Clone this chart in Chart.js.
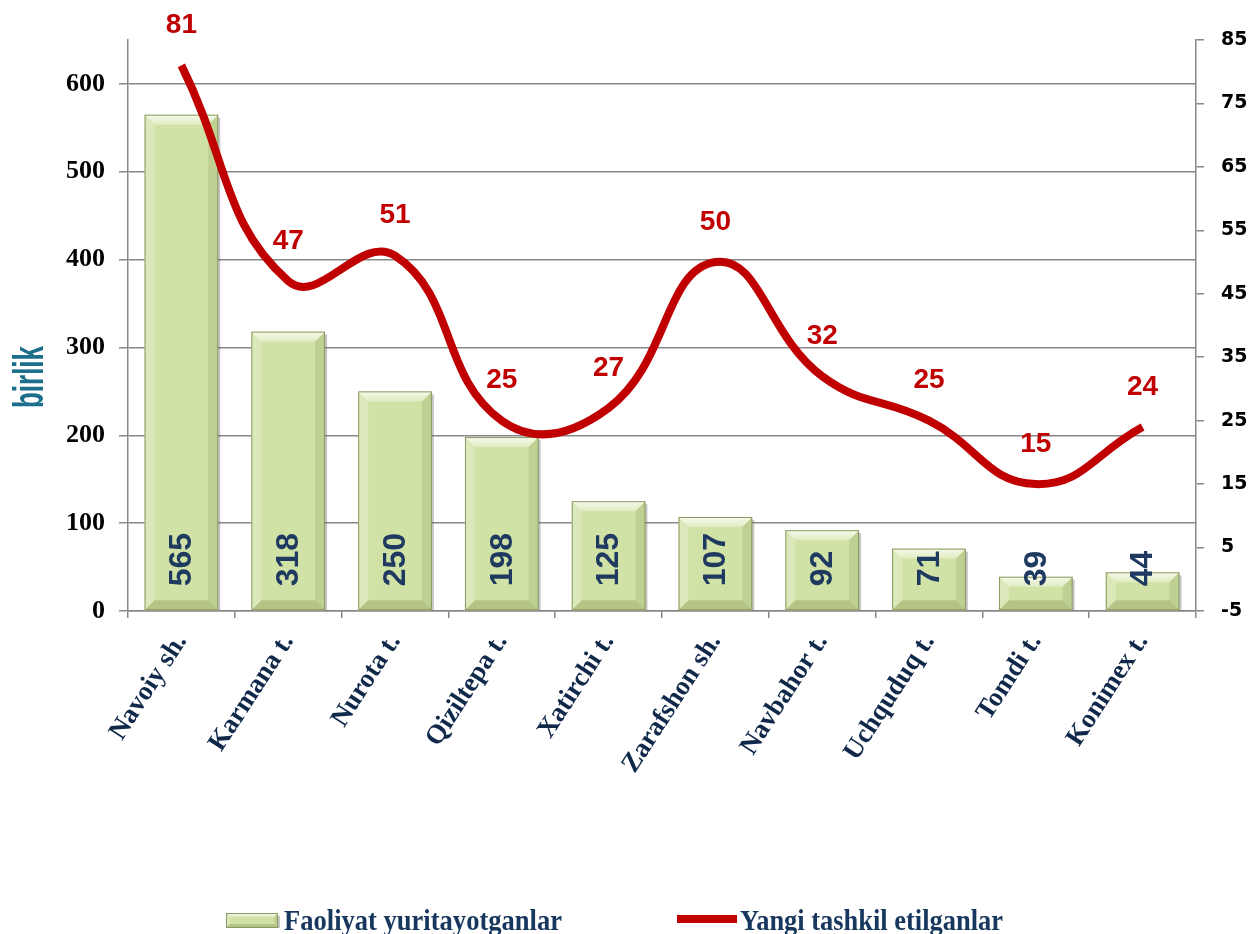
<!DOCTYPE html>
<html><head><meta charset="utf-8">
<script src="https://cdn.jsdelivr.net/npm/chart.js@4.4.1/dist/chart.umd.min.js"></script>
<style>html,body{margin:0;padding:0;background:#fff;overflow:hidden}</style>
</head><body>
<canvas id="c" width="1251" height="934"></canvas>
<script>
const categories = ['Navoiy sh.','Karmana t.','Nurota t.','Qiziltepa t.','Xatirchi t.','Zarafshon sh.','Navbahor t.','Uchquduq t.','Tomdi t.','Konimex t.'];
const activeCounts = [565,318,250,198,125,107,92,71,39,44];
const newCounts = [81,47,51,25,27,50,32,25,15,24];
const seriesNames = ['Faoliyat yuritayotganlar','Yangi tashkil etilganlar'];
const leftTicks = {min:0, max:650, step:100};
const rightTicks = {min:-5, max:85, step:10};
const axisTitle = 'birlik';

const GREEN = '#D1E2A6', RED = '#C00000', NAVY = '#1F3A60', GRID = '#888888';

function bevelRect(ctx, l, t, r, bt, bv) {
  ctx.save();
  const g = ctx.createLinearGradient(0, t, 0, t + bv);
  g.addColorStop(0, '#F6FAEA'); g.addColorStop(1, '#E0ECC2');
  ctx.fillStyle = g;
  ctx.beginPath(); ctx.moveTo(l, t); ctx.lineTo(r, t); ctx.lineTo(r - bv, t + bv); ctx.lineTo(l + bv, t + bv); ctx.closePath(); ctx.fill();
  ctx.fillStyle = 'rgba(255,255,255,0.22)';
  ctx.beginPath(); ctx.moveTo(l, t); ctx.lineTo(l + bv, t + bv); ctx.lineTo(l + bv, bt - bv); ctx.lineTo(l, bt); ctx.closePath(); ctx.fill();
  ctx.fillStyle = 'rgba(110,130,60,0.18)';
  ctx.beginPath(); ctx.moveTo(r, t); ctx.lineTo(r - bv, t + bv); ctx.lineTo(r - bv, bt - bv); ctx.lineTo(r, bt); ctx.closePath(); ctx.fill();
  ctx.fillStyle = 'rgba(100,120,50,0.28)';
  ctx.beginPath(); ctx.moveTo(l, bt); ctx.lineTo(l + bv, bt - bv); ctx.lineTo(r - bv, bt - bv); ctx.lineTo(r, bt); ctx.closePath(); ctx.fill();
  ctx.strokeStyle = '#8A9A64'; ctx.lineWidth = 1;
  ctx.strokeRect(l + 0.5, t + 0.5, r - l - 1, bt - t - 1);
  ctx.fillStyle = 'rgba(90,90,90,0.35)';
  ctx.fillRect(r, t + 3, 2, bt - t - 3);
  ctx.restore();
}

const decorPlugin = {
  id: 'decor',
  afterDatasetDraw(chart, args) {
    const meta = args.meta;
    if (meta.type !== 'bar') return;
    const ctx = chart.ctx;
    meta.data.forEach((el, i) => {
      const p = el.getProps(['x','y','base','width'], true);
      const l = p.x - p.width / 2, r = p.x + p.width / 2;
      const h = p.base - p.y;
      bevelRect(ctx, l, p.y, r, p.base, Math.min(10, h / 2));
      ctx.save();
      ctx.translate(p.x, p.base - 24);
      ctx.rotate(-Math.PI / 2);
      ctx.font = 'bold 32px "Liberation Sans", Arial, sans-serif';
      ctx.fillStyle = NAVY;
      ctx.textAlign = 'left';
      ctx.textBaseline = 'middle';
      ctx.fillText(String(chart.data.datasets[args.index].data[i]), 0, 1);
      ctx.restore();
    });
  },
  afterDatasetsDraw(chart) {
    const ctx = chart.ctx;
    chart.data.datasets.forEach((ds, di) => {
      const meta = chart.getDatasetMeta(di);
      if (meta.type !== 'line') return;
      meta.data.forEach((el, i) => {
        ctx.save();
        ctx.font = 'bold 28px "Liberation Sans", Arial, sans-serif';
        ctx.fillStyle = RED;
        ctx.textAlign = 'center';
        ctx.textBaseline = 'middle';
        ctx.fillText(String(ds.data[i]), el.x, el.y - 40);
        ctx.restore();
      });
    });
  },
  afterDraw(chart) {
    const ctx = chart.ctx;
    ctx.save();
    ctx.translate(43, 377);
    ctx.rotate(-Math.PI / 2);
    ctx.font = 'bold 42px "Liberation Sans Narrow", "Liberation Sans", Arial, sans-serif';
    const w = ctx.measureText(axisTitle).width;
    ctx.scale(62 / w, 1);
    ctx.fillStyle = '#1C6E8C';
    ctx.textAlign = 'center';
    ctx.textBaseline = 'alphabetic';
    ctx.fillText(axisTitle, 0, 0);
    ctx.restore();
    const items = [
      {kind:'bar', boxL:226, boxR:278, textX:284, textW:278},
      {kind:'line', boxL:677, boxR:737, textX:740, textW:263}
    ];
    items.forEach((it, k) => {
      ctx.save();
      if (it.kind === 'bar') {
        ctx.fillStyle = GREEN;
        ctx.fillRect(it.boxL, 913, it.boxR - it.boxL, 15);
        bevelRect(ctx, it.boxL, 913, it.boxR, 928, 4);
      } else {
        ctx.fillStyle = RED;
        ctx.fillRect(it.boxL, 915, it.boxR - it.boxL, 8);
      }
      ctx.font = 'bold 30px "Liberation Serif", "Times New Roman", serif';
      const tw = ctx.measureText(seriesNames[k]).width;
      ctx.translate(it.textX, 930);
      ctx.scale(it.textW / tw, 1);
      ctx.fillStyle = '#17375E';
      ctx.textAlign = 'left';
      ctx.textBaseline = 'alphabetic';
      ctx.fillText(seriesNames[k], 0, 0);
      ctx.restore();
    });
  }
};

new Chart(document.getElementById('c'), {
  data: {
    labels: categories,
    datasets: [
      { type:'bar', label: seriesNames[0], data: activeCounts, yAxisID:'y',
        backgroundColor: GREEN, borderWidth:0,
        barPercentage:0.69, categoryPercentage:1, order:1 },
      { type:'line', label: seriesNames[1], data: newCounts, yAxisID:'y1',
        borderColor: RED, borderWidth:8, pointRadius:0, tension:0.45,
        fill:false, order:0 }
    ]
  },
  options: {
    responsive:false, devicePixelRatio:1, animation:false,
    layout:{padding:{top:40,left:0,right:0,bottom:0}},
    plugins:{legend:{display:false}, tooltip:{enabled:false}},
    scales:{
      x:{
        offset:true,
        grid:{offset:true, drawOnChartArea:false, drawTicks:true, tickLength:7, color:GRID, lineWidth:1.5},
        border:{color:GRID, width:1.5},
        ticks:{autoSkip:false, minRotation:57, maxRotation:57, padding:10,
          font:{family:'"Liberation Serif", "Times New Roman", serif', weight:'bold', size:27}, color:'#10284A'},
        afterFit(s){ s.height = 323; }
      },
      y:{
        position:'left', min:leftTicks.min, max:leftTicks.max,
        ticks:{stepSize:leftTicks.step, includeBounds:false, padding:14,
          font:{family:'"Liberation Serif", "Times New Roman", serif', weight:'bold', size:26}, color:'#000'},
        grid:{color:GRID, lineWidth:1.5, tickLength:9},
        border:{color:GRID, width:1.5},
        afterFit(s){ s.width = 128; }
      },
      y1:{
        position:'right', min:rightTicks.min, max:rightTicks.max,
        ticks:{stepSize:rightTicks.step, padding:17,
          font:{family:'"DejaVu Sans", Verdana, sans-serif', weight:'bold', size:19}, color:'#000'},
        grid:{drawOnChartArea:false, color:GRID, lineWidth:1.5, tickLength:8},
        border:{color:GRID, width:1.5},
        afterFit(s){ s.width = 55; }
      }
    }
  },
  plugins:[decorPlugin]
});
</script>
</body></html>
